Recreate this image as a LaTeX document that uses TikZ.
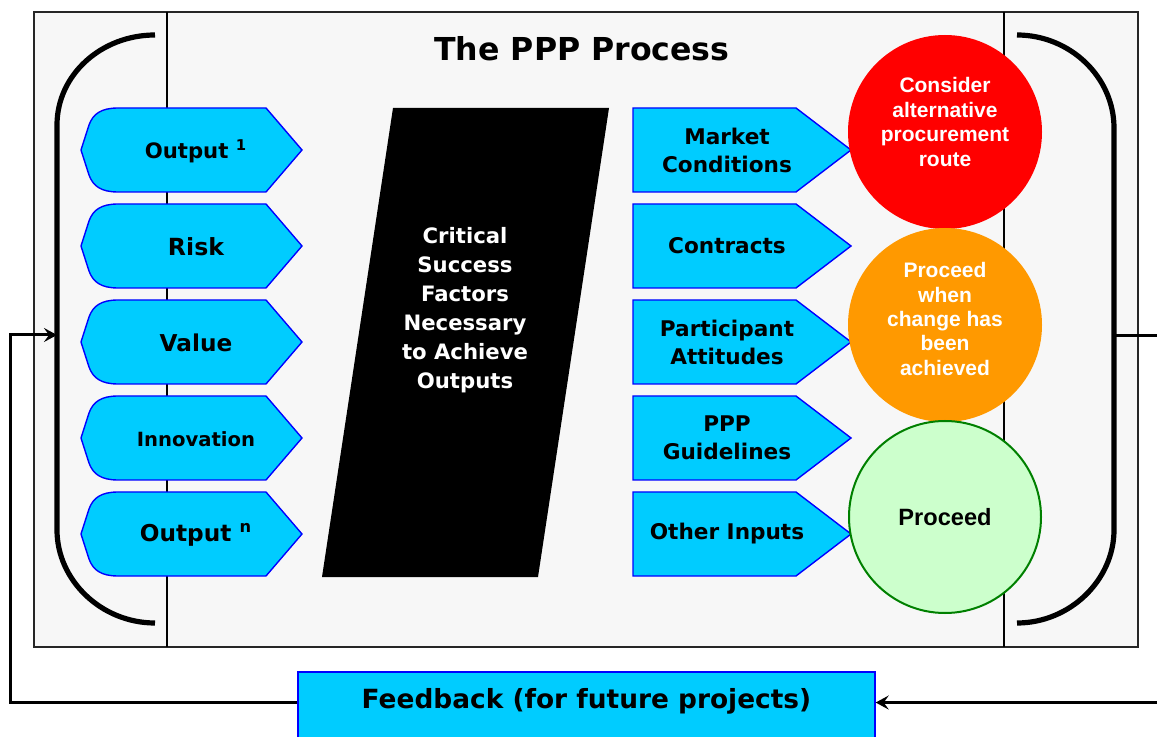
\documentclass[tikz,border=0pt]{standalone}
\usepackage{fontspec}
\setmainfont{DejaVu Sans}
\newfontfamily\arialfont{Liberation Sans}
\usepackage{xcolor}
\usetikzlibrary{arrows.meta, positioning}

\definecolor{boxcyan}{HTML}{00CCFF}
\definecolor{panelgray}{HTML}{F7F7F7}
\definecolor{palegreen}{HTML}{CCFFCC}
\definecolor{darkgreen}{HTML}{008000}
\definecolor{amber}{HTML}{FF9900}

\begin{document}
\begin{tikzpicture}[
    x=0.5pt, y=-0.5pt,
    panel/.style={draw=black!85, fill=panelgray, line width=0.75pt},
    divider/.style={draw=black, line width=0.7pt},
    bracket/.style={line width=2.6pt},
    shapebox/.style={draw=blue, fill=boxcyan, line width=0.7pt},
    lbl/.style={align=center, font=\bfseries\fontsize{10.8}{14}\selectfont},
    ball/.style={circle, minimum size=97pt, inner sep=0pt},
    balltext/.style={align=center, text=white, font=\arialfont\bfseries\fontsize{10.5}{12.2}\selectfont},
    fbline/.style={line width=1.5pt, -{Stealth[length=6.5pt, width=7pt, inset=2.5pt]}}
]
\useasboundingbox (0,0) rectangle (1157,737);
\clip (0,0) rectangle (1157,737);

% panel
\draw[panel] (34,12) rectangle (1138,647);
\draw[divider] (167,12) -- (167,647);
\draw[divider] (1004,12) -- (1004,647);

\node[font=\bfseries\fontsize{15.8}{19}\selectfont] (title) at (582,49) {The PPP Process};

% brackets
\draw[bracket] (155,35) .. controls (101,35) and (57,75) .. (57,125) -- (57,530)
  .. controls (57,580) and (101,623) .. (155,623);
\draw[bracket] (1017,35) .. controls (1070,35) and (1114,77) .. (1114,128) -- (1114,530)
  .. controls (1114,580) and (1070,623) .. (1017,623);
\coordinate (lbr) at (57,335);
\coordinate (rbr) at (1114,336);

% outputs
\foreach \y/\name/\fs/\txt in {150/outone/10.6/Output \textsuperscript{1}, 246/risk/11.8/Risk,
    342/value/11.6/Value, 438/innov/9.8/Innovation, 534/outn/11.6/Output \textsuperscript{n}}{
  \draw[shapebox] (118,\y-42) -- (266,\y-42) -- (302,\y) -- (266,\y+42) -- (118,\y+42)
    .. controls (101,\y+42) and (93,\y+36) .. (89,\y+25) -- (81,\y) -- (89,\y-25)
    .. controls (93,\y-36) and (101,\y-42) .. cycle;
  \node[align=center, font=\bfseries\fontsize{\fs}{14}\selectfont] (\name) at (196,\y+1) {\txt};
}

% critical success factors
\fill (393,108) -- (609,108) -- (538,577) -- (322,577) -- cycle;
\node[align=center, text=white, font=\bfseries\fontsize{10.6}{14.5}\selectfont] (csf) at (465,310)
  {Critical\\Success\\Factors\\Necessary\\to Achieve\\Outputs};

% inputs
\foreach \y/\name/\txt in {150/market/Market\\Conditions, 246/contracts/Contracts,
    342/attitudes/Participant\\Attitudes, 438/guidelines/PPP\\Guidelines, 534/otherin/Other Inputs}{
  \draw[shapebox] (633,\y-42) -- (796,\y-42) -- (851,\y) -- (796,\y+42) -- (633,\y+42) -- cycle;
  \node[lbl] (\name) at (727,\y) {\txt};
}

% decisions
\node[ball, fill=red] (altroute) at (945,132) {};
\node[balltext] (altroutetxt) at ([yshift=5pt]altroute.center) {Consider\\alternative\\procurement\\route};
\node[ball, fill=amber] (change) at (945,325) {};
\node[balltext] (changetxt) at ([yshift=3pt]change.center) {Proceed\\when\\change has\\been\\achieved};
\node[ball, draw=darkgreen, fill=palegreen, line width=1pt, minimum size=96pt,
  font=\arialfont\bfseries\fontsize{11.8}{14}\selectfont] (proceed) at (945,517) {Proceed};

% feedback
\node[draw=blue, fill=boxcyan, line width=0.7pt, anchor=base, minimum width=288.5pt,
  text height=14pt, text depth=14pt, inner ysep=4pt, font=\bfseries\fontsize{13.2}{16}\selectfont]
  (feedback) at (586.5,708) {Feedback (for future projects)};

\draw[fbline] (feedback.mid west) -| (10,335) -- (lbr);
\draw[fbline] (rbr) -- (1175,336) |- (feedback.mid east);

\end{tikzpicture}
\end{document}
